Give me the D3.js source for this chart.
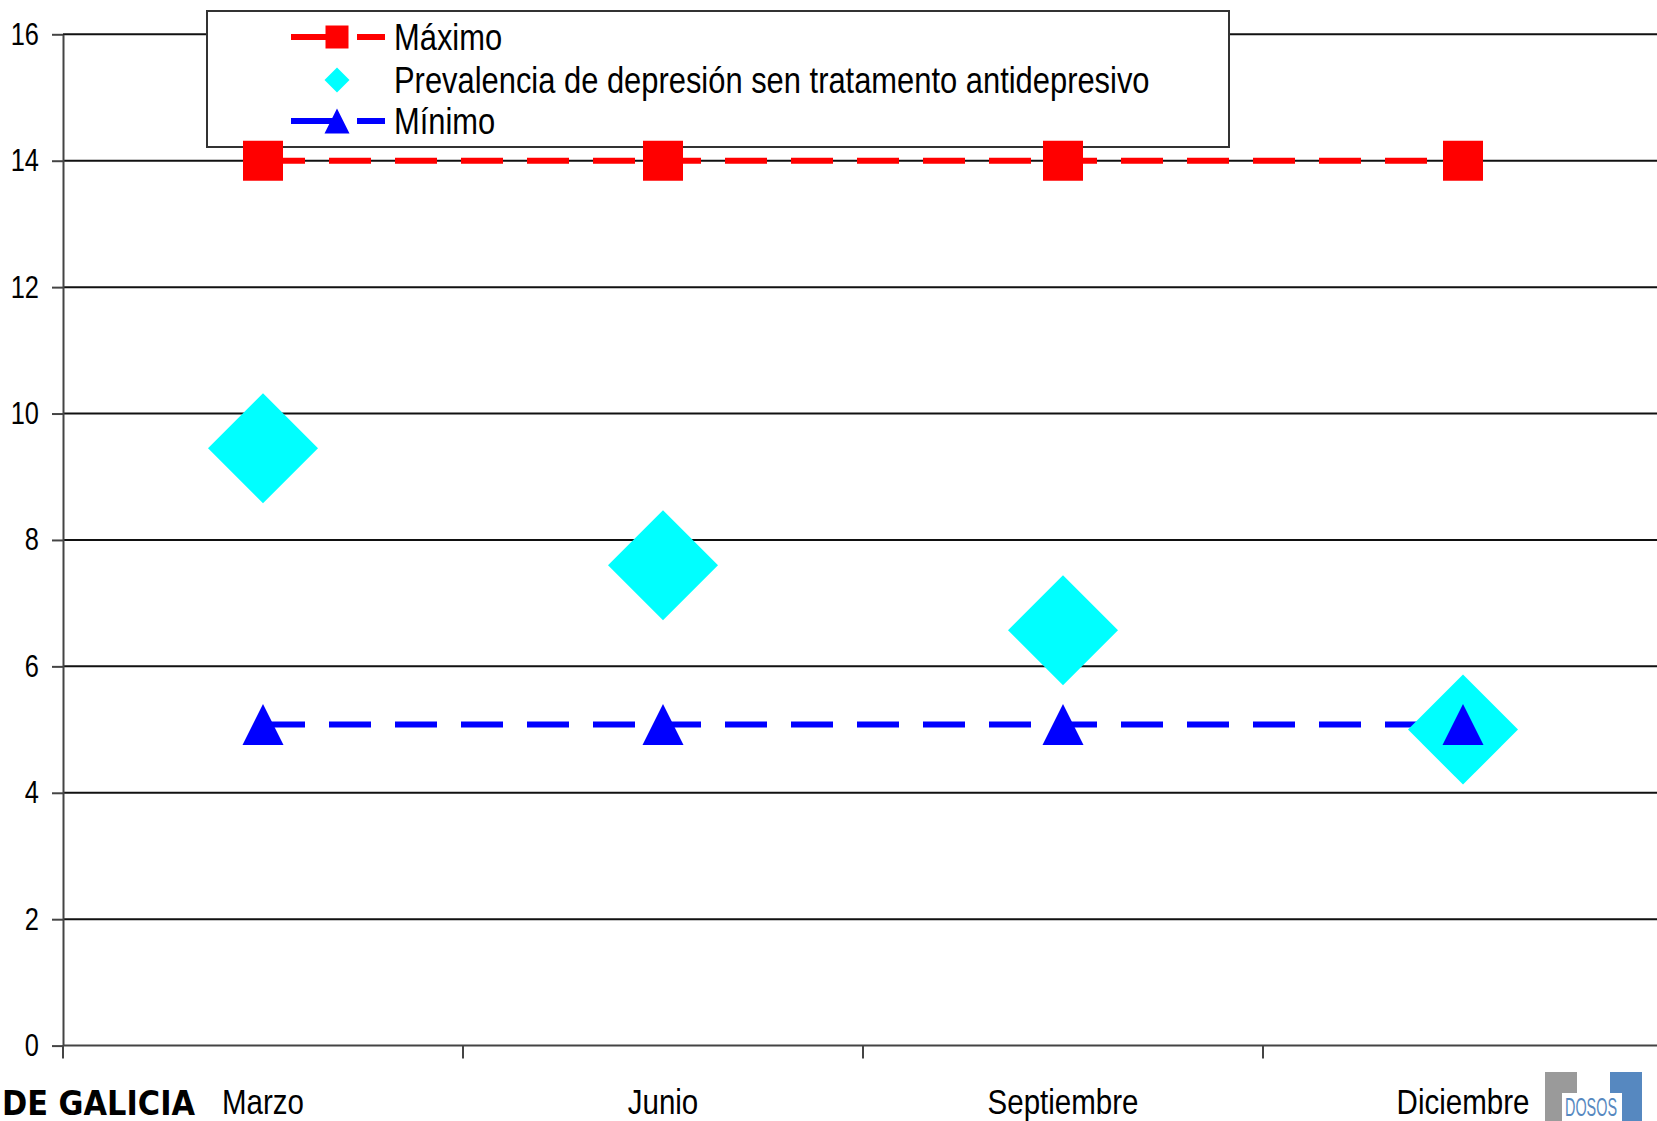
<!DOCTYPE html>
<html>
<head>
<meta charset="utf-8">
<script src="https://cdn.jsdelivr.net/npm/d3@7"></script>
<style>
  html, body { margin: 0; padding: 0; background: #fff; }
  svg { display: block; }
  .narrow { font-family: "Liberation Sans Narrow", "Arial Narrow", "Liberation Sans", Arial, sans-serif; }
</style>
</head>
<body>
<svg id="canvas" width="1657" height="1121"></svg>
<script>
// Data
const months = ['Marzo', 'Junio', 'Septiembre', 'Diciembre'];
const maximo = [14.0, 14.0, 14.0, 14.0];
const prevalencia = [9.45, 7.6, 6.57, 5.0];
const minimo = [5.08, 5.08, 5.08, 5.08];
const yTicks = [0, 2, 4, 6, 8, 10, 12, 14, 16];
const legendLabels = ['Máximo', 'Prevalencia de depresión sen tratamento antidepresivo', 'Mínimo'];

// Layout
const width = 1657;
const height = 1121;
const plot = { left: 63, right: 1663, top: 34.3, bottom: 1045.6 };

const svg = d3.select('#canvas');

const x = d3.scaleBand().domain(months).range([plot.left, plot.right]);
const y = d3.scaleLinear().domain([0, 16]).range([plot.bottom, plot.top]);

// marker shapes
const squarePath = s => `M${-s/2},${-s/2}H${s/2}V${s/2}H${-s/2}Z`;
const diamondPath = d => `M0,${-d/2}L${d/2},0L0,${d/2}L${-d/2},0Z`;
const trianglePath = (w, h) => `M0,${-h/2}L${w/2},${h/2}H${-w/2}Z`;

// squeeze text horizontally around its anchor (no narrow font installed)
const narrow = (sel, k = 0.82) => sel.each(function() {
    const t = d3.select(this);
    const tx = +t.attr('x') || 0;
    const ty = +t.attr('y') || 0;
    t.attr('x', 0).attr('y', 0)
     .attr('transform', `translate(${tx},${ty}) scale(${k},1)`);
});

// Gridlines
svg.append('g')
    .selectAll('line')
    .data(yTicks.filter(t => t > 0))
    .enter()
    .append('line')
    .attr('x1', plot.left)
    .attr('x2', width)
    .attr('y1', d => y(d))
    .attr('y2', d => y(d))
    .attr('stroke', '#111')
    .attr('stroke-width', 2);

// Y axis
const yAxis = svg.append('g')
    .attr('transform', `translate(${plot.left},0)`)
    .call(d3.axisLeft(y).tickValues(yTicks).tickSize(11).tickSizeOuter(0).tickPadding(13));
yAxis.select('.domain').attr('stroke', '#444').attr('stroke-width', 2);
yAxis.selectAll('.tick line').attr('stroke', '#444').attr('stroke-width', 2);
yAxis.selectAll('.tick text')
    .attr('class', 'narrow')
    .attr('font-size', 31)
    .attr('fill', '#000')
    .call(narrow);

// X axis (ticks at category boundaries)
const xAxisG = svg.append('g')
    .attr('transform', `translate(0,${plot.bottom})`);
xAxisG.append('line')
    .attr('x1', plot.left).attr('x2', width)
    .attr('stroke', '#444').attr('stroke-width', 2);
xAxisG.selectAll('.xtick')
    .data(months)
    .enter()
    .append('line')
    .attr('x1', d => x(d)).attr('x2', d => x(d))
    .attr('y1', 0).attr('y2', 13)
    .attr('stroke', '#444').attr('stroke-width', 2);
xAxisG.selectAll('text')
    .data(months)
    .enter()
    .append('text')
    .attr('class', 'narrow')
    .attr('x', d => x(d) + x.bandwidth() / 2)
    .attr('y', 68)
    .attr('text-anchor', 'middle')
    .attr('font-size', 36)
    .attr('fill', '#000')
    .text(d => d)
    .call(narrow);

// Legend box (drawn over the top gridline)
const legend = { x: 207, y: 11, w: 1022, h: 136 };
svg.append('rect')
    .attr('x', legend.x).attr('y', legend.y)
    .attr('width', legend.w).attr('height', legend.h)
    .attr('fill', '#fff')
    .attr('stroke', '#333')
    .attr('stroke-width', 2);

// Series lines
const cx = d => x(d) + x.bandwidth() / 2;
const line = d3.line().x((d, i) => cx(months[i])).y(d => y(d));

svg.append('path')
    .datum(maximo)
    .attr('d', line)
    .attr('fill', 'none')
    .attr('stroke', '#ff0000')
    .attr('stroke-width', 6)
    .attr('stroke-dasharray', '42,24');

svg.append('path')
    .datum(minimo)
    .attr('d', line)
    .attr('fill', 'none')
    .attr('stroke', '#0000ff')
    .attr('stroke-width', 6)
    .attr('stroke-dasharray', '42,24');

// Markers
svg.append('g').selectAll('path')
    .data(maximo)
    .enter()
    .append('path')
    .attr('transform', (d, i) => `translate(${cx(months[i])},${y(d)})`)
    .attr('d', squarePath(40))
    .attr('fill', '#ff0000');

svg.append('g').selectAll('path')
    .data(prevalencia)
    .enter()
    .append('path')
    .attr('transform', (d, i) => `translate(${cx(months[i])},${y(d)})`)
    .attr('d', diamondPath(110))
    .attr('fill', '#00ffff');

svg.append('g').selectAll('path')
    .data(minimo)
    .enter()
    .append('path')
    .attr('transform', (d, i) => `translate(${cx(months[i])},${y(d)})`)
    .attr('d', trianglePath(41, 41))
    .attr('fill', '#0000ff');

// Legend entries
const legendRows = [37, 80, 121];
const legendColors = ['#ff0000', '#00ffff', '#0000ff'];
const legendMarkers = [squarePath(23), diamondPath(25), trianglePath(25, 25)];

legendLabels.forEach((label, i) => {
    const g = svg.append('g').attr('transform', `translate(0,${legendRows[i]})`);
    if (i !== 1) {
        g.append('line')
            .attr('x1', 291).attr('x2', 385)
            .attr('stroke', legendColors[i])
            .attr('stroke-width', 6)
            .attr('stroke-dasharray', '45,21,28');
    }
    g.append('path')
        .attr('transform', 'translate(337,0)')
        .attr('d', legendMarkers[i])
        .attr('fill', legendColors[i]);
    g.append('text')
        .attr('class', 'narrow')
        .attr('x', 394)
        .attr('y', 13)
        .attr('font-size', 37)
        .attr('fill', '#000')
        .text(label)
        .call(narrow, 0.835);
});

// Logo fragments at the bottom corners
svg.append('text')
    .attr('x', 2)
    .attr('y', 1115)
    .attr('font-family', '"DejaVu Sans", sans-serif')
    .attr('font-weight', 'bold')
    .attr('font-size', 34)
    .attr('textLength', 193)
    .attr('lengthAdjust', 'spacingAndGlyphs')
    .attr('fill', '#000')
    .text('DE GALICIA');

const logo = svg.append('g');
logo.append('rect').attr('x', 1545).attr('y', 1072).attr('width', 32).attr('height', 49).attr('fill', '#9a9a9a');
logo.append('rect').attr('x', 1610).attr('y', 1072).attr('width', 32).attr('height', 49).attr('fill', '#5688c0');
logo.append('rect').attr('x', 1562).attr('y', 1093).attr('width', 60).attr('height', 28).attr('fill', '#fff');
logo.append('text')
    .attr('x', 1565)
    .attr('y', 1116)
    .attr('font-family', '"Liberation Sans", sans-serif')
    .attr('font-size', 26)
    .attr('textLength', 52)
    .attr('lengthAdjust', 'spacingAndGlyphs')
    .attr('fill', '#5688c0')
    .text('DOSOS');
</script>
</body>
</html>
